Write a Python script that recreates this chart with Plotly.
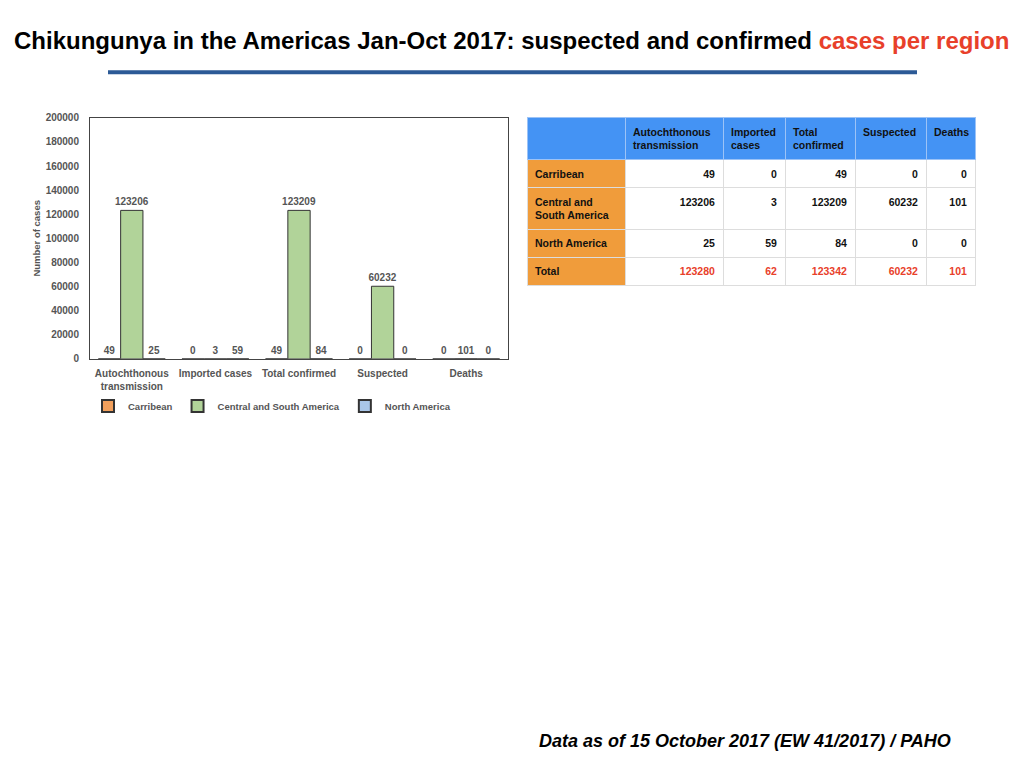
import plotly.graph_objects as go

# categories shown on the x axis / table columns
categories = ["Autochthonous transmission", "Imported cases", "Total confirmed", "Suspected", "Deaths"]
cat_labels = ["Autochthonous<br>transmission", "Imported cases", "Total confirmed", "Suspected", "Deaths"]
table_heads = ["Autochthonous<br>transmission", "Imported<br>cases", "Total<br>confirmed", "Suspected", "Deaths"]

regions = ["Carribean", "Central and South America", "North America"]
region_rows = ["Carribean", "Central and<br>South America", "North America", "Total"]

carribean = [49, 0, 49, 0, 0]
central_south = [123206, 3, 123209, 60232, 101]
north_america = [25, 59, 84, 0, 0]

totals = [a + b + c for a, b, c in zip(carribean, central_south, north_america)]

bar_colors = ["#f2a05c", "#b1d399", "#a9c6e8"]
FONT = "Liberation Sans, Arial, sans-serif"

# work in reference pixels (page has an 8px body margin, shot is a bit squashed vertically)
W, H = 1008, 768


def px(x):
    return (x - 8) / W


def py(y):
    return 1 - ((y - 5.7) / 0.983 - 8) / H


fig = go.Figure()

for name, vals, col in zip(regions, [carribean, central_south, north_america], bar_colors):
    fig.add_trace(go.Bar(
        x=cat_labels, y=vals, name=name,
        marker=dict(color=col, line=dict(color="#333333", width=1)),
        text=[str(v) for v in vals], textposition="outside",
        textfont=dict(family=FONT, size=10, color="#555555", weight="bold"),
        cliponaxis=False, constraintext="none",
    ))

# table on the right
cols = [region_rows] + [[c, b, n, t] for c, b, n, t in zip(carribean, central_south, north_america, totals)]
val_color = ["#111111", "#111111", "#111111", "#e8402a"]
fig.add_trace(go.Table(
    domain=dict(x=[px(527), px(975)], y=[0.3, py(118)]),
    columnwidth=[98, 98, 62, 70, 71, 49],
    header=dict(
        values=[""] + ["<b>%s</b>" % h for h in table_heads],
        fill_color="#4493f4", align="left", height=36,
        line=dict(color="#9cc3f7", width=1),
        font=dict(family=FONT, size=10.5, color="#111111"),
    ),
    cells=dict(
        values=[["<b>%s</b>" % r for r in cols[0]]] + [["<b>%s</b>" % v for v in c] for c in cols[1:]],
        fill_color=[["#f09c3b"] * 4] + [["white"] * 4] * 5,
        align=["left"] + ["right"] * 5, height=22,
        line=dict(color="#dddddd", width=1),
        font=dict(family=FONT, size=10.5, color=[["#111111"] * 4] + [val_color] * 5),
    ),
))

fig.update_layout(
    width=W, height=H,
    margin=dict(l=0, r=0, t=0, b=0),
    paper_bgcolor="white", plot_bgcolor="white",
    barmode="group", bargap=0.2, bargroupgap=0,
    font=dict(family=FONT, color="#555555"),
    xaxis=dict(
        domain=[px(90), px(508)],
        showline=True, linecolor="#444444", mirror=True,
        tickfont=dict(size=10, color="#555555", weight="bold"), ticks="",
        ticklabelstandoff=5,
    ),
    yaxis=dict(
        domain=[py(358), py(118)],
        range=[0, 200000], dtick=20000, tickformat="d",
        showgrid=False, showline=True, linecolor="#444444", mirror=True,
        ticks="", zeroline=False, ticklabelstandoff=8,
        tickfont=dict(size=10, color="#555555", weight="bold"),
        title=dict(text="Number of cases", font=dict(size=9.5, color="#555555", weight="bold"), standoff=3),
    ),
    legend=dict(
        orientation="h", x=px(272), xanchor="center", y=py(405), yanchor="middle",
        font=dict(size=9.5, color="#555555", weight="bold"), itemwidth=30, itemsizing="constant",
    ),
    annotations=[
        dict(text="<b>Chikungunya in the Americas Jan-Oct 2017: suspected and confirmed "
                  "<span style='color:#e8402a'>cases per region</span></b>",
             x=px(511), y=py(41), xref="paper", yref="paper", yanchor="middle", showarrow=False,
             font=dict(family=FONT, size=24, color="black")),
        dict(text="<b><i>Data as of 15 October 2017 (EW 41/2017) / PAHO</i></b>",
             x=px(953), y=py(739), xref="paper", yref="paper", xanchor="right", yanchor="middle",
             showarrow=False, font=dict(family=FONT, size=18, color="black")),
    ],
    shapes=[
        dict(type="line", xref="paper", yref="paper", x0=px(108), x1=px(917),
             y0=py(72.5), y1=py(72.5), line=dict(color="#2c5a96", width=4)),
    ],
)

fig.write_html("out.html")
